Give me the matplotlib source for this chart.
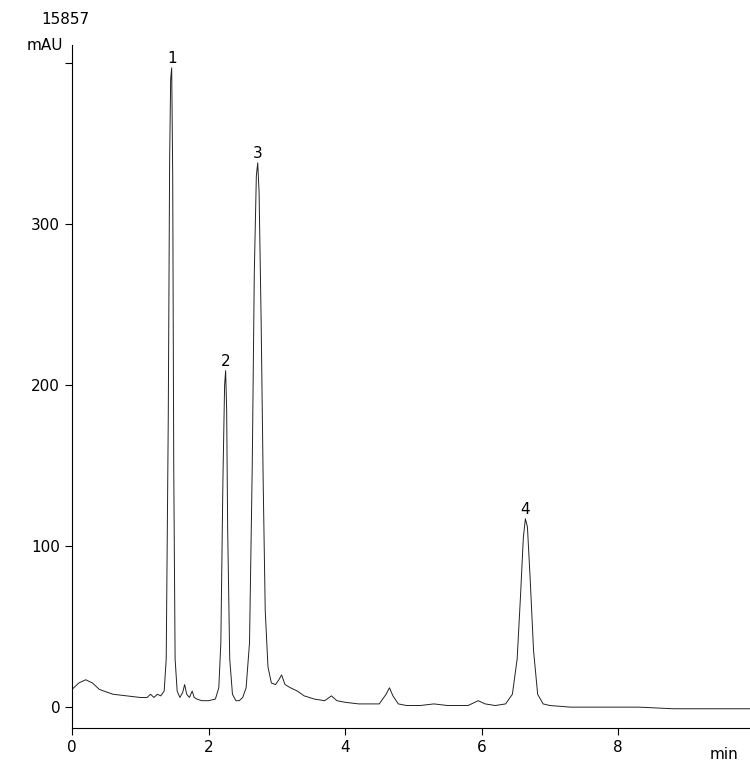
import matplotlib
matplotlib.use("Agg")
import matplotlib.pyplot as plt

time_min = [0.0, 0.1, 0.2, 0.3, 0.4, 0.6, 0.8, 1.0, 1.1, 1.15, 1.2, 1.25, 1.3, 1.35, 1.38, 1.41, 1.43, 1.445, 1.46, 1.475, 1.49, 1.51, 1.54, 1.58,
            1.62, 1.65, 1.68, 1.72, 1.76, 1.79, 1.83, 1.9, 2.0, 2.1, 2.15, 2.18, 2.21, 2.235, 2.25, 2.265, 2.28, 2.31, 2.35, 2.4, 2.45,
            2.5, 2.55, 2.6, 2.64, 2.67, 2.70, 2.72, 2.74, 2.77, 2.80, 2.83, 2.87, 2.92, 2.98, 3.03, 3.07, 3.12, 3.2, 3.3, 3.4,
            3.55, 3.7, 3.8, 3.88, 4.0, 4.2, 4.5, 4.6, 4.65, 4.7, 4.78, 4.9, 5.1, 5.3, 5.5, 5.8, 5.95, 6.05, 6.2, 6.35, 6.45, 6.52,
            6.57, 6.61, 6.64, 6.67, 6.71, 6.76, 6.82, 6.9, 7.0, 7.3, 7.8, 8.3, 8.8, 9.3, 9.93]
signal_mau = [11, 15, 17, 15, 11, 8, 7, 6, 6, 8, 6, 8, 7, 10, 30, 180, 340, 390, 397, 330, 150, 30, 10, 6,
              9, 14, 8, 6, 10, 6, 5, 4, 4, 5, 12, 40, 140, 200, 209, 185, 110, 30, 8, 4, 4,
              6, 12, 40, 150, 270, 330, 338, 320, 240, 140, 60, 25, 15, 14, 17, 20, 14, 12, 10, 7,
              5, 4, 7, 4, 3, 2, 2, 8, 12, 7, 2, 1, 1, 2, 1, 1, 4, 2, 1, 2, 8, 30,
              70, 105, 117, 112, 80, 35, 8, 2, 1, 0, 0, 0, -1, -1, -1]

peak_labels = ["1", "2", "3", "4"]
peak_times = [1.46, 2.25, 2.72, 6.64]
peak_heights = [397, 209, 338, 117]

fig = plt.figure(figsize=(7.5, 7.68), dpi=100)
ax = fig.add_axes([0.096, 0.052, 0.904, 0.889])
ax.plot(time_min, signal_mau, color="#222222", lw=0.7)
for lab, t, h in zip(peak_labels, peak_times, peak_heights):
    ax.text(t, h + 1, lab, ha="center", va="bottom", fontsize=11)

ax.set_xlim(0, 9.93)
ax.set_ylim(-13, 411)
ax.set_xticks([0, 2, 4, 6, 8])
ax.set_yticks([0, 100, 200, 300, 400])
ax.set_yticklabels(["0", "100", "200", "300", ""])
ax.tick_params(labelsize=11, length=5, width=0.8)
for s in ["top", "right"]:
    ax.spines[s].set_visible(False)
fig.text(0.096 - 0.06, 0.935, "mAU", fontsize=11, ha="left")
fig.text(0.055, 0.985, "15857", fontsize=11, ha="left", va="top")
fig.text(0.985, 0.012, "min", fontsize=11, ha="right")
fig.savefig("out.png")
